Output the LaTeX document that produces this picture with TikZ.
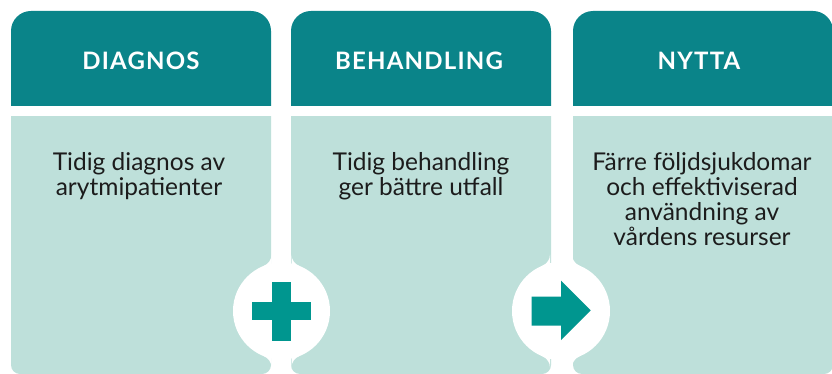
\documentclass[tikz,border=0pt]{standalone}
\usepackage{fontspec}
\setmainfont{Lato}
\newfontfamily\headfont{Lato}[LetterSpace=5]
\definecolor{headcol}{HTML}{0A8489}
\definecolor{bodycol}{HTML}{BEE0DA}
\definecolor{iconcol}{HTML}{00968F}
\definecolor{txtcol}{HTML}{1C1C1C}
\begin{document}
\begin{tikzpicture}[x=1pt,y=-1pt,
  headtext/.style={text=white, inner sep=0, anchor=base, font=\headfont\bfseries\fontsize{24}{24}\selectfont},
  bodytext/.style={text=txtcol, inner sep=0, anchor=north, align=center, font=\fontsize{24.5}{25}\selectfont},
  hub/.style={circle, fill=white, inner sep=0}]
\useasboundingbox (0,0) rectangle (832,374);
\fill[white] (0,0) rectangle (832,374);
% headers
\begin{scope}
  \clip (0,0) rectangle (832,106);
  \foreach \xa/\xb in {11/271, 291/551, 573/833}
    \fill[headcol, rounded corners=20] (\xa,11) rectangle (\xb,140);
\end{scope}
% bodies
\begin{scope}
  \clip (0,117) rectangle (832,374);
  \foreach \xa/\xb in {11/271, 291/551, 573/833}
    \fill[bodycol, rounded corners=9] (\xa,90) rectangle (\xb,374);
\end{scope}
% header texts
\node[headtext] (h1) at (141,70) {DIAGNOS};
\node[headtext] (h2) at (419,70) {BEHANDLING};
\node[headtext] (h3) at (699,70) {NYTTA};
% body texts
\node[bodytext] (b1) at (139,152) {Tidig diagnos av\\arytmipatienter};
\node[bodytext] (b2) at (421,152) {Tidig behandling\\ger bättre utfall};
\node[bodytext] (b3) at (702,152) {Färre följdsjukdomar\\och effektiviserad\\användning av\\vårdens resurser};
% hubs
\node[hub, minimum size=97] (c1) at (281.5,311) {};
\node[hub, minimum size=98] (c2) at (561,311) {};
\foreach \cn/\g/\R in {c1/10/48.5, c2/11/49}{
  \pgfmathsetmacro\f{12}
  \pgfmathsetmacro\dy{sqrt((\R+\f)^2-(\g+\f)^2)}
  \pgfmathsetmacro\tx{\R*(\g+\f)/(\R+\f)}
  \pgfmathsetmacro\ty{-\R*\dy/(\R+\f)}
  \pgfmathsetmacro\ang{180-atan(\dy/(\g+\f))}
  \foreach \sx/\sy in {1/1,1/-1,-1/1,-1/-1}{
    \begin{scope}[shift={(\cn.center)}, xscale=\sx, yscale=\sy]
      \fill[white] (\g,-\dy) -- (\g,-30) -- (\tx,\ty)
        arc[start angle=\ang, end angle=180, radius=\f] -- cycle;
    \end{scope}
  }
}
% plus icon
\fill[iconcol] ([shift={(-29.5,-9.2)}]c1.center) rectangle ([shift={(29.5,9.2)}]c1.center);
\fill[iconcol] ([shift={(-9.2,-29.5)}]c1.center) rectangle ([shift={(9.2,29.5)}]c1.center);
% arrow icon
\fill[iconcol] ([shift={(-29.3,-14.5)}]c2.center) -- ([shift={(0,-14.5)}]c2.center)
  -- ([shift={(0,-30.3)}]c2.center) -- ([shift={(29.7,-0.7)}]c2.center)
  -- ([shift={(0,29)}]c2.center) -- ([shift={(0,14.5)}]c2.center)
  -- ([shift={(-29.3,14.5)}]c2.center) -- cycle;
\end{tikzpicture}
\end{document}
